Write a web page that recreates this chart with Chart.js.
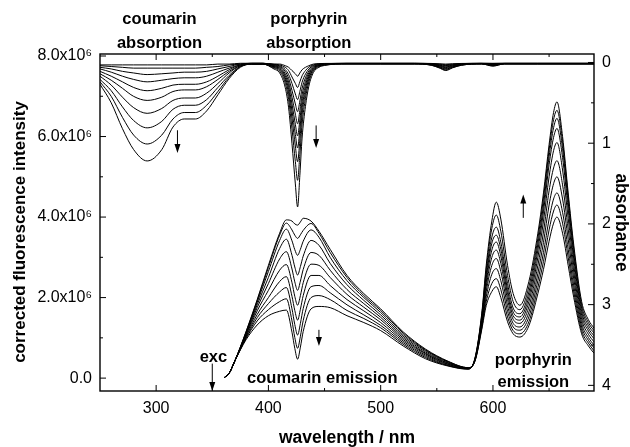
<!DOCTYPE html>
<html>
<head>
<meta charset="utf-8">
<script src="https://cdn.jsdelivr.net/npm/chart.js@4.4.1/dist/chart.umd.min.js"></script>
<style>
  html, body { margin: 0; padding: 0; background: #fff; }
</style>
</head>
<body>
<canvas id="spectra" width="630" height="447"></canvas>
<script>
const FONT = '"Liberation Sans", Arial, Helvetica, sans-serif';

// tick values
const xTicks = [300, 400, 500, 600];
const xMinorTicks = [350, 450, 550, 650];
const fluorTicks = [0, 2, 4, 6, 8];          // x10^6
const fluorMinorTicks = [1, 3, 5, 7];
const absTicks = [0, 1, 2, 3, 4];
const absMinorTicks = [0.5, 1.5, 2.5, 3.5];

// absorption spectra (absorbance), one per titration step
const absWl = [250, 260, 270, 280, 292, 305, 315, 325, 335, 345, 355, 365, 375, 385, 395,
  405, 410, 415, 418, 421, 424, 426, 428, 430, 433, 436, 440, 445, 450,
  470, 500, 530, 545, 552, 558, 564, 572, 590, 600, 610, 640, 690];

const abs01 = [0.03, 0.03, 0.03, 0.03, 0.03, 0.03, 0.03, 0.03, 0.03, 0.03, 0.02, 0.02, 0.01, 0.01, 0.01,
  0.02, 0.02, 0.04, 0.06, 0.1, 0.14, 0.17, 0.13, 0.09, 0.06, 0.04, 0.02, 0.014, 0.012,
  0.01, 0.01, 0.01, 0.012, 0.016, 0.02, 0.016, 0.012, 0.01, 0.01, 0.01, 0.01, 0.01];
const abs02 = [0.04, 0.05, 0.06, 0.07, 0.07, 0.07, 0.07, 0.07, 0.07, 0.06, 0.05, 0.03, 0.02, 0.01, 0.01,
  0.022, 0.03, 0.06, 0.1, 0.18, 0.26, 0.31, 0.24, 0.165, 0.1, 0.058, 0.03, 0.018, 0.015,
  0.01, 0.01, 0.01, 0.014, 0.021, 0.028, 0.021, 0.014, 0.01, 0.013, 0.01, 0.01, 0.01];
const abs03 = [0.06, 0.08, 0.11, 0.13, 0.15, 0.14, 0.13, 0.12, 0.12, 0.11, 0.08, 0.05, 0.02, 0.01, 0.01,
  0.028, 0.04, 0.087, 0.15, 0.26, 0.39, 0.46, 0.36, 0.244, 0.145, 0.082, 0.039, 0.023, 0.017,
  0.012, 0.012, 0.012, 0.017, 0.028, 0.038, 0.028, 0.017, 0.012, 0.018, 0.012, 0.012, 0.012];
const abs04 = [0.08, 0.12, 0.17, 0.21, 0.24, 0.22, 0.2, 0.19, 0.19, 0.17, 0.12, 0.07, 0.03, 0.015, 0.015,
  0.034, 0.05, 0.11, 0.196, 0.346, 0.514, 0.61, 0.478, 0.322, 0.19, 0.106, 0.049, 0.027, 0.019,
  0.012, 0.012, 0.012, 0.019, 0.032, 0.046, 0.032, 0.019, 0.012, 0.021, 0.012, 0.012, 0.012];
const abs05 = [0.11, 0.17, 0.24, 0.31, 0.35, 0.32, 0.28, 0.27, 0.27, 0.24, 0.17, 0.09, 0.03, 0.015, 0.015,
  0.04, 0.06, 0.138, 0.243, 0.43, 0.64, 0.76, 0.595, 0.4, 0.235, 0.13, 0.059, 0.031, 0.021,
  0.014, 0.014, 0.014, 0.022, 0.039, 0.056, 0.039, 0.022, 0.014, 0.026, 0.014, 0.014, 0.014];
const abs06 = [0.14, 0.22, 0.32, 0.42, 0.47, 0.43, 0.36, 0.34, 0.34, 0.3, 0.21, 0.11, 0.04, 0.02, 0.02,
  0.046, 0.07, 0.163, 0.289, 0.514, 0.766, 0.91, 0.712, 0.478, 0.28, 0.154, 0.068, 0.035, 0.024,
  0.014, 0.014, 0.014, 0.024, 0.044, 0.064, 0.044, 0.024, 0.014, 0.029, 0.014, 0.014, 0.014];
const abs07 = [0.17, 0.28, 0.43, 0.56, 0.63, 0.57, 0.47, 0.44, 0.44, 0.38, 0.26, 0.13, 0.04, 0.02, 0.02,
  0.052, 0.08, 0.189, 0.336, 0.598, 0.892, 1.06, 0.829, 0.556, 0.325, 0.178, 0.078, 0.039, 0.026,
  0.016, 0.016, 0.016, 0.028, 0.051, 0.074, 0.051, 0.028, 0.016, 0.034, 0.016, 0.016, 0.016];
const abs08 = [0.21, 0.35, 0.55, 0.72, 0.81, 0.73, 0.58, 0.53, 0.53, 0.46, 0.31, 0.16, 0.05, 0.02, 0.02,
  0.059, 0.092, 0.217, 0.388, 0.693, 1.035, 1.23, 0.962, 0.644, 0.376, 0.205, 0.089, 0.044, 0.028,
  0.016, 0.016, 0.016, 0.029, 0.056, 0.082, 0.056, 0.029, 0.016, 0.037, 0.016, 0.016, 0.016];
const abs09 = [0.24, 0.42, 0.68, 0.9, 1.01, 0.9, 0.7, 0.62, 0.62, 0.53, 0.36, 0.18, 0.05, 0.02, 0.02,
  0.068, 0.107, 0.257, 0.46, 0.822, 1.228, 1.46, 1.141, 0.764, 0.445, 0.242, 0.104, 0.051, 0.032,
  0.018, 0.018, 0.018, 0.033, 0.062, 0.092, 0.062, 0.033, 0.018, 0.042, 0.018, 0.018, 0.018];
const abs10 = [0.27, 0.5, 0.82, 1.08, 1.22, 1.08, 0.8, 0.7, 0.7, 0.6, 0.4, 0.2, 0.06, 0.02, 0.02,
  0.081, 0.129, 0.313, 0.562, 1.007, 1.505, 1.79, 1.398, 0.936, 0.544, 0.295, 0.126, 0.06, 0.037,
  0.018, 0.018, 0.018, 0.034, 0.067, 0.1, 0.067, 0.034, 0.018, 0.045, 0.018, 0.018, 0.018];

// emission spectra (corrected intensity, x10^6), same titration steps
const emWl = [361, 365, 370, 380, 390, 400, 410, 416, 421, 423.5, 426, 428.5, 431, 438, 445, 455, 470, 485, 500, 520, 540, 560, 578,
  584, 590, 594, 599, 603, 607, 613, 618, 624, 632, 640, 645, 650, 654, 657, 662, 667, 672, 679, 685, 690];

const em01 = [0.02, 0.12, 0.42, 1.15, 1.95, 2.8, 3.6, 3.93, 3.9, 3.83, 3.8, 3.88, 3.97, 3.9, 3.65, 3.2, 2.55, 2.1, 1.72, 1.15, 0.72, 0.42, 0.26,
  0.42, 1.2, 1.8, 2.15, 2.27, 2.0, 1.4, 1.1, 1.02, 1.3, 2.1, 2.7, 3.4, 3.85, 4.0, 3.6, 2.8, 2.0, 1.1, 0.8, 0.62];
const em02 = [0.02, 0.12, 0.42, 1.14, 1.92, 2.75, 3.55, 3.85, 3.68, 3.55, 3.47, 3.56, 3.67, 3.84, 3.6, 3.12, 2.5, 2.05, 1.68, 1.12, 0.7, 0.41, 0.26,
  0.43, 1.24, 1.9, 2.35, 2.47, 2.2, 1.52, 1.18, 1.1, 1.4, 2.25, 2.9, 3.68, 4.15, 4.3, 3.85, 3.0, 2.14, 1.18, 0.87, 0.68];
const em03 = [0.02, 0.12, 0.42, 1.12, 1.88, 2.65, 3.42, 3.7, 3.41, 3.19, 3.05, 3.2, 3.4, 3.68, 3.5, 3.0, 2.42, 2.0, 1.63, 1.08, 0.68, 0.4, 0.25,
  0.44, 1.29, 2.02, 2.58, 2.72, 2.42, 1.66, 1.27, 1.19, 1.52, 2.42, 3.12, 3.95, 4.45, 4.6, 4.12, 3.2, 2.29, 1.27, 0.94, 0.75];
const em04 = [0.02, 0.12, 0.42, 1.1, 1.82, 2.5, 3.22, 3.45, 3.05, 2.76, 2.56, 2.77, 3.03, 3.42, 3.3, 2.85, 2.32, 1.93, 1.57, 1.04, 0.65, 0.38, 0.25,
  0.45, 1.33, 2.15, 2.8, 2.97, 2.65, 1.8, 1.36, 1.27, 1.64, 2.6, 3.37, 4.3, 4.83, 5.0, 4.45, 3.45, 2.46, 1.36, 1.01, 0.82];
const em05 = [0.02, 0.12, 0.42, 1.08, 1.75, 2.35, 2.96, 3.14, 2.71, 2.39, 2.18, 2.41, 2.7, 3.12, 3.05, 2.68, 2.2, 1.85, 1.51, 1.0, 0.62, 0.37, 0.25,
  0.46, 1.38, 2.27, 3.0, 3.18, 2.85, 1.95, 1.46, 1.36, 1.77, 2.8, 3.63, 4.65, 5.22, 5.4, 4.8, 3.7, 2.63, 1.46, 1.09, 0.9];
const em06 = [0.02, 0.12, 0.42, 1.06, 1.67, 2.18, 2.68, 2.82, 2.37, 2.03, 1.81, 2.05, 2.37, 2.83, 2.8, 2.5, 2.08, 1.76, 1.45, 0.96, 0.6, 0.35, 0.24,
  0.46, 1.42, 2.38, 3.18, 3.38, 3.03, 2.08, 1.55, 1.44, 1.9, 3.0, 3.9, 5.0, 5.65, 5.85, 5.17, 3.97, 2.8, 1.56, 1.17, 0.98];
const em07 = [0.02, 0.12, 0.42, 1.03, 1.58, 2.0, 2.4, 2.52, 2.03, 1.68, 1.44, 1.71, 2.05, 2.55, 2.55, 2.3, 1.95, 1.67, 1.38, 0.92, 0.57, 0.34, 0.24,
  0.47, 1.47, 2.48, 3.35, 3.55, 3.2, 2.2, 1.64, 1.52, 2.02, 3.18, 4.13, 5.3, 5.98, 6.2, 5.48, 4.2, 2.96, 1.65, 1.24, 1.05];
const em08 = [0.02, 0.12, 0.42, 1.0, 1.5, 1.85, 2.14, 2.25, 1.72, 1.33, 1.07, 1.36, 1.73, 2.27, 2.3, 2.12, 1.82, 1.57, 1.31, 0.88, 0.54, 0.32, 0.23,
  0.48, 1.51, 2.58, 3.5, 3.75, 3.38, 2.35, 1.74, 1.6, 2.14, 3.33, 4.3, 5.5, 6.22, 6.45, 5.7, 4.37, 3.08, 1.74, 1.31, 1.12];
const em09 = [0.02, 0.12, 0.42, 0.98, 1.42, 1.7, 1.9, 1.97, 1.42, 1.01, 0.74, 1.04, 1.43, 2.0, 2.05, 1.95, 1.68, 1.48, 1.25, 0.84, 0.51, 0.31, 0.23,
  0.49, 1.56, 2.7, 3.72, 4.05, 3.65, 2.55, 1.9, 1.7, 2.27, 3.47, 4.47, 5.67, 6.42, 6.65, 5.87, 4.5, 3.2, 1.82, 1.38, 1.18];
const em10 = [0.02, 0.12, 0.42, 0.95, 1.32, 1.55, 1.66, 1.69, 1.14, 0.74, 0.47, 0.77, 1.16, 1.72, 1.78, 1.75, 1.55, 1.38, 1.18, 0.8, 0.48, 0.3, 0.22,
  0.5, 1.6, 2.8, 3.9, 4.37, 3.95, 2.8, 2.1, 1.81, 2.4, 3.6, 4.6, 5.8, 6.6, 6.86, 6.0, 4.6, 3.3, 1.9, 1.45, 1.24];

const absorptionSpectra = [abs01, abs02, abs03, abs04, abs05, abs06, abs07, abs08, abs09, abs10];
const emissionSpectra = [em01, em02, em03, em04, em05, em06, em07, em08, em09, em10];

const toPoints = (wl, values) => wl.map((w, i) => ({ x: w, y: values[i] }));

const datasets = [
  ...absorptionSpectra.map((s) => ({ data: toPoints(absWl, s), yAxisID: 'yA' })),
  ...emissionSpectra.map((s) => ({ data: toPoints(emWl, s), yAxisID: 'yF' }))
];

// frame, inward ticks, arrows and text labels
const decorations = {
  id: 'decorations',
  afterDraw(chart) {
    const { ctx, chartArea: a, scales: { x, yF, yA } } = chart;
    const px = (v) => x.getPixelForValue(v);
    const pf = (v) => yF.getPixelForValue(v);
    const pa = (v) => yA.getPixelForValue(v);
    const seg = (x1, y1, x2, y2) => {
      ctx.beginPath(); ctx.moveTo(x1, y1); ctx.lineTo(x2, y2); ctx.stroke();
    };
    const arrow = (xp, y1, y2) => {
      const d = Math.sign(y2 - y1);
      seg(xp, y1, xp, y2 - d * 4);
      ctx.beginPath();
      ctx.moveTo(xp, y2);
      ctx.lineTo(xp - 3, y2 - d * 9);
      ctx.lineTo(xp + 3, y2 - d * 9);
      ctx.closePath();
      ctx.fill();
    };

    ctx.save();
    ctx.strokeStyle = '#000';
    ctx.fillStyle = '#000';
    ctx.lineWidth = 1.4;
    ctx.strokeRect(a.left, a.top, a.right - a.left, a.bottom - a.top);

    ctx.lineWidth = 1;
    xTicks.forEach((v) => { const p = px(v); seg(p, a.bottom, p, a.bottom - 6); seg(p, a.top, p, a.top + 6); });
    xMinorTicks.forEach((v) => { const p = px(v); seg(p, a.bottom, p, a.bottom - 3); seg(p, a.top, p, a.top + 3); });
    fluorTicks.forEach((v) => { const p = pf(v); seg(a.left, p, a.left + 6, p); });
    fluorMinorTicks.forEach((v) => { const p = pf(v); seg(a.left, p, a.left + 3, p); });
    absTicks.forEach((v) => { const p = pa(v); seg(a.right, p, a.right - 6, p); });
    absMinorTicks.forEach((v) => { const p = pa(v); seg(a.right, p, a.right - 3, p); });

    // direction arrows
    arrow(px(319), pa(0.84), pa(1.12));
    arrow(px(442.5), pa(0.78), pa(1.06));
    arrow(px(445), pf(1.2), pf(0.8));
    arrow(px(627), pf(3.98), pf(4.56));
    arrow(px(350), pf(0.36), a.bottom);

    ctx.font = `bold 16.5px ${FONT}`;
    ctx.textAlign = 'center';
    ctx.textBaseline = 'middle';
    ctx.fillText('coumarin', px(303), a.top - 35);
    ctx.fillText('absorption', px(303), a.top - 11);
    ctx.fillText('porphyrin', px(436), a.top - 35);
    ctx.fillText('absorption', px(436), a.top - 11);
    ctx.fillText('exc', px(351), pf(0.52));
    ctx.fillText('coumarin emission', px(448), pf(0.0));
    ctx.fillText('porphyrin', px(636), pf(0.45));
    ctx.fillText('emission', px(636), pf(-0.12));

    // left axis title
    ctx.font = `bold 17px ${FONT}`;
    ctx.translate(20, 232);
    ctx.rotate(-Math.PI / 2);
    ctx.fillText('corrected fluorescence intensity', 0, 0);
    ctx.restore();
  }
};

const tickFont = { family: FONT, size: 16 };
const titleFont = { family: FONT, size: 17.5, weight: 'bold', lineHeight: 1 };

new Chart(document.getElementById('spectra'), {
  type: 'line',
  data: { datasets },
  options: {
    responsive: false,
    animation: false,
    layout: { padding: { top: 54, left: 0, right: 0, bottom: 0 } },
    plugins: { legend: { display: false }, tooltip: { enabled: false } },
    elements: {
      point: { radius: 0 },
      line: { borderWidth: 1, borderColor: '#000', cubicInterpolationMode: 'monotone', fill: false }
    },
    scales: {
      x: {
        type: 'linear',
        min: 250,
        max: 690,
        grid: { display: false, drawTicks: false },
        border: { display: false },
        afterBuildTicks: (scale) => { scale.ticks = xTicks.map((v) => ({ value: v })); },
        afterFit: (scale) => { scale.height = 56; },
        ticks: { padding: 8, color: '#000', font: tickFont, autoSkip: false, maxRotation: 0 },
        title: { display: true, text: 'wavelength / nm', color: '#000', font: titleFont, padding: 0 }
      },
      yF: {
        type: 'linear',
        position: 'left',
        min: -0.32,
        max: 8.05,
        grid: { display: false, drawTicks: false },
        border: { display: false },
        afterBuildTicks: (scale) => { scale.ticks = fluorTicks.map((v) => ({ value: v })); },
        afterFit: (scale) => { scale.width = 100; },
        ticks: {
          padding: 8,
          color: '#000',
          font: tickFont,
          autoSkip: false,
          callback: (v) => (v === 0 ? '0.0' : `${v.toFixed(1)}x10\u2076`)
        }
      },
      yA: {
        type: 'linear',
        position: 'right',
        reverse: true,
        min: -0.105,
        max: 4.07,
        grid: { display: false, drawTicks: false },
        border: { display: false },
        afterBuildTicks: (scale) => { scale.ticks = absTicks.map((v) => ({ value: v })); },
        afterFit: (scale) => { scale.width = 36; },
        ticks: { padding: 8, color: '#000', font: tickFont, autoSkip: false },
        title: { display: true, text: 'absorbance', color: '#000', font: titleFont, padding: 0 }
      }
    }
  },
  plugins: [decorations]
});
</script>
</body>
</html>
